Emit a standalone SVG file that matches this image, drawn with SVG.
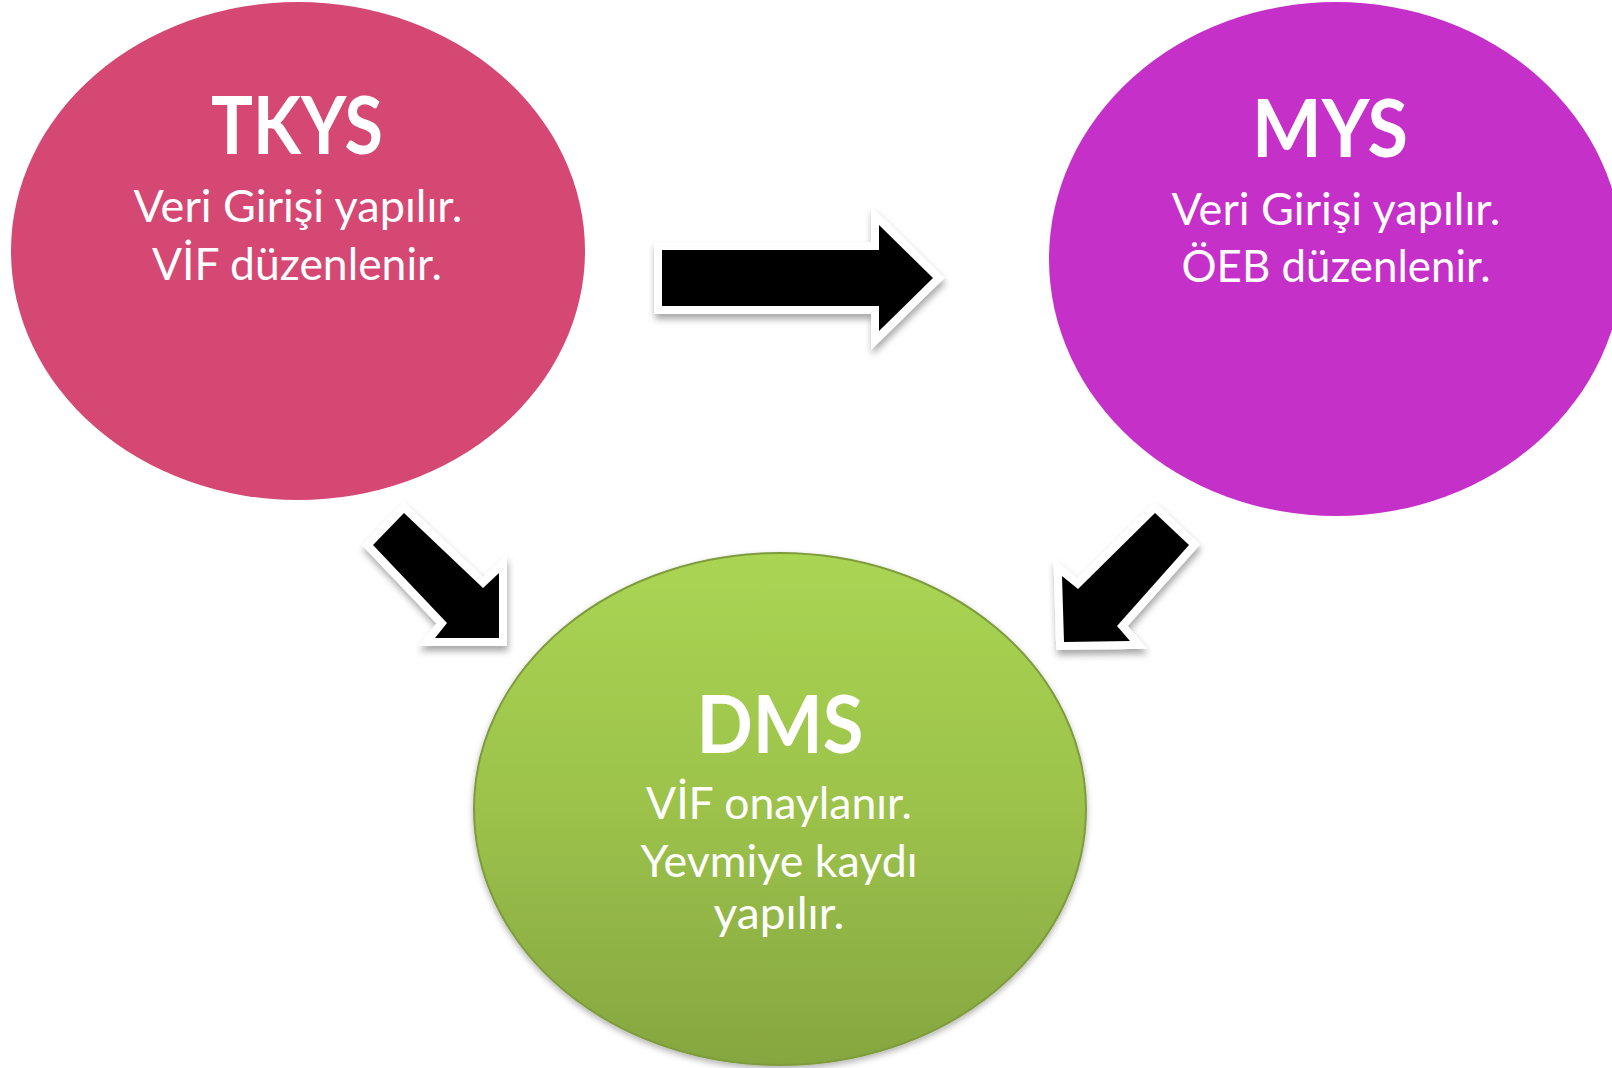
<svg xmlns="http://www.w3.org/2000/svg" width="1612" height="1068" viewBox="0 0 1612 1068">
<style>
.title{font-family:Lato,"Open Sans","Liberation Sans",sans-serif;font-weight:bold;fill:#fff;text-anchor:middle}
.body{font-family:Lato,"Open Sans","Liberation Sans",sans-serif;fill:#fff;text-anchor:middle}
.arrow{fill:#000;stroke:#fff;stroke-width:16;stroke-linejoin:miter;stroke-miterlimit:10;paint-order:stroke;filter:url(#sh)}
</style>
<defs>
<filter id="sh" x="-30%" y="-30%" width="160%" height="170%">
<feDropShadow dx="1" dy="5" stdDeviation="3.5" flood-color="#000" flood-opacity="0.35"/>
</filter>
<linearGradient id="green" x1="0" y1="0" x2="0" y2="1">
<stop offset="0" stop-color="#aad553"/>
<stop offset="0.5" stop-color="#9cc24b"/>
<stop offset="1" stop-color="#86a640"/>
</linearGradient>
<filter id="gsh" x="-10%" y="-10%" width="120%" height="125%">
<feDropShadow dx="0" dy="3" stdDeviation="3" flood-color="#000" flood-opacity="0.3"/>
</filter>
</defs>
<rect width="1612" height="1068" fill="#fff"/>
<g id="tkys">
<ellipse cx="298" cy="251" rx="287" ry="249" fill="#d54873"/>
<text class="title" x="297" y="154" font-size="80" textLength="172" lengthAdjust="spacingAndGlyphs">TKYS</text>
<text class="body" x="298" y="222" font-size="44" textLength="329" lengthAdjust="spacingAndGlyphs">Veri Girişi yapılır.</text>
<text class="body" x="297" y="280" font-size="44" textLength="290" lengthAdjust="spacingAndGlyphs">VİF düzenlenir.</text>
</g>
<g id="mys">
<ellipse cx="1336" cy="259" rx="287" ry="257" fill="#c530c9"/>
<text class="title" x="1330" y="157" font-size="80" textLength="156" lengthAdjust="spacingAndGlyphs">MYS</text>
<text class="body" x="1336" y="225" font-size="44" textLength="329" lengthAdjust="spacingAndGlyphs">Veri Girişi yapılır.</text>
<text class="body" x="1336" y="282" font-size="44" textLength="309" lengthAdjust="spacingAndGlyphs">ÖEB düzenlenir.</text>
</g>
<g id="dms">
<ellipse cx="780" cy="809" rx="306" ry="256" fill="url(#green)" stroke="#7e9c3c" stroke-width="2" filter="url(#gsh)"/>
<text class="title" x="780" y="753" font-size="80" textLength="167" lengthAdjust="spacingAndGlyphs">DMS</text>
<text class="body" x="779" y="819" font-size="44" textLength="266" lengthAdjust="spacingAndGlyphs">VİF onaylanır.</text>
<text class="body" x="779" y="877" font-size="44" textLength="277" lengthAdjust="spacingAndGlyphs">Yevmiye kaydı</text>
<text class="body" x="779" y="929" font-size="44" textLength="131" lengthAdjust="spacingAndGlyphs">yapılır.</text>
</g>
<g id="connectors">
<polygon class="arrow" points="662,250 879,250 879,225 933,278 879,331 879,306 662,306"/>
<polygon class="arrow" points="404,513 483,588 499,573 499,638 435,638 447,623 373,545"/>
<polygon class="arrow" points="1155,513 1189,545 1117,626 1130,641 1064,642 1062,576 1078,589"/>
</g>
</svg>
